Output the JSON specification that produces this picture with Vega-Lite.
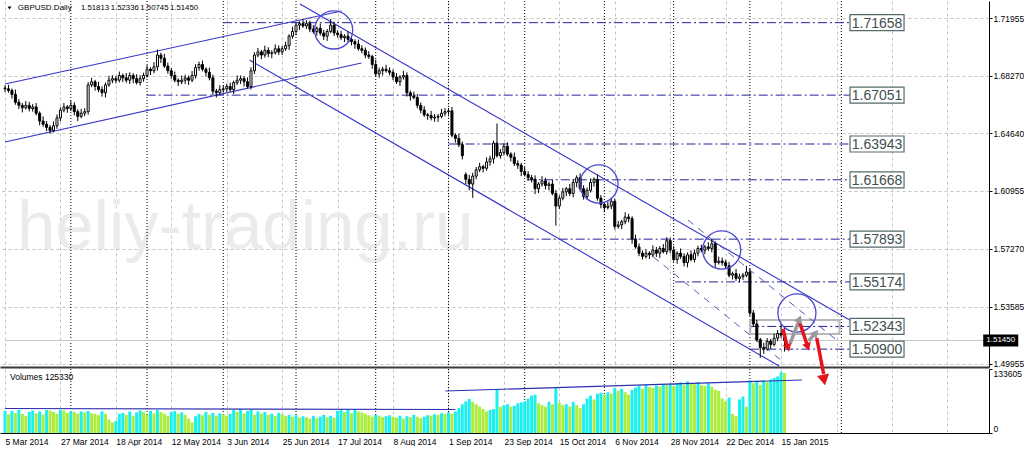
{
"$schema":"https://vega.github.io/schema/vega-lite/v6.json",
"padding":0,
"background":"white",
"spacing":2,
"bounds":"flush",
"config":{"view":{"stroke":null},"font":"Liberation Sans","axis":{"labelFont":"Liberation Sans","labelFontSize":8.5,"labelColor":"#000000","title":null}},
"datasets":{
"one":[{}],
"bars":[
{"k":0,"o":1.6750,"h":1.6768,"l":1.6725,"c":1.6745,"v":46000,"vu":1},
{"k":1,"o":1.6745,"h":1.6770,"l":1.6721,"c":1.6735,"v":39000,"vu":0},
{"k":2,"o":1.6735,"h":1.6747,"l":1.6683,"c":1.6710,"v":46000,"vu":1},
{"k":3,"o":1.6710,"h":1.6740,"l":1.6644,"c":1.6660,"v":42000,"vu":0},
{"k":4,"o":1.6660,"h":1.6680,"l":1.6616,"c":1.6640,"v":48000,"vu":1},
{"k":5,"o":1.6640,"h":1.6655,"l":1.6595,"c":1.6625,"v":40000,"vu":0},
{"k":6,"o":1.6625,"h":1.6668,"l":1.6613,"c":1.6640,"v":36000,"vu":0},
{"k":7,"o":1.6640,"h":1.6662,"l":1.6601,"c":1.6620,"v":44000,"vu":1},
{"k":8,"o":1.6620,"h":1.6648,"l":1.6600,"c":1.6630,"v":47000,"vu":1},
{"k":9,"o":1.6630,"h":1.6655,"l":1.6576,"c":1.6590,"v":41000,"vu":0},
{"k":10,"o":1.6590,"h":1.6602,"l":1.6513,"c":1.6540,"v":45000,"vu":1},
{"k":11,"o":1.6540,"h":1.6570,"l":1.6504,"c":1.6520,"v":38000,"vu":0},
{"k":12,"o":1.6520,"h":1.6540,"l":1.6476,"c":1.6500,"v":48000,"vu":1},
{"k":13,"o":1.6500,"h":1.6515,"l":1.6460,"c":1.6480,"v":47000,"vu":0},
{"k":14,"o":1.6480,"h":1.6538,"l":1.6468,"c":1.6510,"v":44000,"vu":0},
{"k":15,"o":1.6510,"h":1.6582,"l":1.6491,"c":1.6560,"v":40000,"vu":0},
{"k":16,"o":1.6560,"h":1.6628,"l":1.6540,"c":1.6610,"v":48000,"vu":1},
{"k":17,"o":1.6610,"h":1.6655,"l":1.6596,"c":1.6630,"v":47000,"vu":0},
{"k":18,"o":1.6630,"h":1.6642,"l":1.6593,"c":1.6620,"v":42000,"vu":0},
{"k":19,"o":1.6620,"h":1.6670,"l":1.6604,"c":1.6640,"v":45000,"vu":1},
{"k":20,"o":1.6640,"h":1.6660,"l":1.6576,"c":1.6600,"v":44000,"vu":0},
{"k":21,"o":1.6600,"h":1.6615,"l":1.6540,"c":1.6570,"v":40000,"vu":0},
{"k":22,"o":1.6570,"h":1.6618,"l":1.6558,"c":1.6590,"v":45000,"vu":1},
{"k":23,"o":1.6590,"h":1.6622,"l":1.6571,"c":1.6600,"v":43000,"vu":0},
{"k":24,"o":1.6600,"h":1.6788,"l":1.6580,"c":1.6770,"v":46000,"vu":1},
{"k":25,"o":1.6770,"h":1.6815,"l":1.6756,"c":1.6790,"v":41000,"vu":0},
{"k":26,"o":1.6790,"h":1.6802,"l":1.6733,"c":1.6760,"v":40000,"vu":0},
{"k":27,"o":1.6760,"h":1.6790,"l":1.6724,"c":1.6740,"v":37000,"vu":0},
{"k":28,"o":1.6740,"h":1.6760,"l":1.6696,"c":1.6720,"v":45000,"vu":1},
{"k":29,"o":1.6720,"h":1.6785,"l":1.6690,"c":1.6770,"v":40000,"vu":0},
{"k":30,"o":1.6770,"h":1.6828,"l":1.6758,"c":1.6800,"v":28000,"vu":0},
{"k":31,"o":1.6800,"h":1.6832,"l":1.6781,"c":1.6810,"v":22000,"vu":0},
{"k":32,"o":1.6810,"h":1.6828,"l":1.6780,"c":1.6800,"v":25000,"vu":1},
{"k":33,"o":1.6800,"h":1.6855,"l":1.6786,"c":1.6830,"v":40000,"vu":1},
{"k":34,"o":1.6830,"h":1.6842,"l":1.6788,"c":1.6815,"v":42000,"vu":1},
{"k":35,"o":1.6815,"h":1.6845,"l":1.6784,"c":1.6800,"v":38000,"vu":0},
{"k":36,"o":1.6800,"h":1.6850,"l":1.6776,"c":1.6830,"v":45000,"vu":1},
{"k":37,"o":1.6830,"h":1.6845,"l":1.6780,"c":1.6810,"v":36000,"vu":0},
{"k":38,"o":1.6810,"h":1.6838,"l":1.6773,"c":1.6785,"v":43000,"vu":1},
{"k":39,"o":1.6785,"h":1.6832,"l":1.6766,"c":1.6810,"v":47000,"vu":1},
{"k":40,"o":1.6810,"h":1.6848,"l":1.6790,"c":1.6830,"v":44000,"vu":0},
{"k":41,"o":1.6830,"h":1.6895,"l":1.6816,"c":1.6870,"v":38000,"vu":0},
{"k":42,"o":1.6870,"h":1.6882,"l":1.6833,"c":1.6860,"v":46000,"vu":1},
{"k":43,"o":1.6860,"h":1.6915,"l":1.6844,"c":1.6885,"v":41000,"vu":0},
{"k":44,"o":1.6885,"h":1.6995,"l":1.6861,"c":1.6960,"v":48000,"vu":1},
{"k":45,"o":1.6960,"h":1.6975,"l":1.6910,"c":1.6940,"v":44000,"vu":0},
{"k":46,"o":1.6940,"h":1.6968,"l":1.6878,"c":1.6890,"v":40000,"vu":0},
{"k":47,"o":1.6890,"h":1.6912,"l":1.6841,"c":1.6860,"v":36000,"vu":0},
{"k":48,"o":1.6860,"h":1.6878,"l":1.6810,"c":1.6830,"v":44000,"vu":1},
{"k":49,"o":1.6830,"h":1.6855,"l":1.6786,"c":1.6800,"v":46000,"vu":1},
{"k":50,"o":1.6800,"h":1.6812,"l":1.6763,"c":1.6790,"v":40000,"vu":0},
{"k":51,"o":1.6790,"h":1.6830,"l":1.6774,"c":1.6800,"v":43000,"vu":1},
{"k":52,"o":1.6800,"h":1.6835,"l":1.6776,"c":1.6815,"v":38000,"vu":0},
{"k":53,"o":1.6815,"h":1.6830,"l":1.6770,"c":1.6800,"v":30000,"vu":0},
{"k":54,"o":1.6800,"h":1.6858,"l":1.6788,"c":1.6830,"v":22000,"vu":0},
{"k":55,"o":1.6830,"h":1.6902,"l":1.6811,"c":1.6880,"v":35000,"vu":1},
{"k":56,"o":1.6880,"h":1.6918,"l":1.6860,"c":1.6900,"v":40000,"vu":1},
{"k":57,"o":1.6900,"h":1.6925,"l":1.6856,"c":1.6870,"v":37000,"vu":0},
{"k":58,"o":1.6870,"h":1.6882,"l":1.6823,"c":1.6850,"v":44000,"vu":1},
{"k":59,"o":1.6850,"h":1.6880,"l":1.6799,"c":1.6815,"v":38000,"vu":0},
{"k":60,"o":1.6815,"h":1.6835,"l":1.6706,"c":1.6730,"v":42000,"vu":1},
{"k":61,"o":1.6730,"h":1.6745,"l":1.6690,"c":1.6720,"v":36000,"vu":0},
{"k":62,"o":1.6720,"h":1.6768,"l":1.6708,"c":1.6740,"v":41000,"vu":1},
{"k":63,"o":1.6740,"h":1.6767,"l":1.6721,"c":1.6745,"v":39000,"vu":0},
{"k":64,"o":1.6745,"h":1.6778,"l":1.6725,"c":1.6760,"v":36000,"vu":0},
{"k":65,"o":1.6760,"h":1.6785,"l":1.6726,"c":1.6740,"v":40000,"vu":1},
{"k":66,"o":1.6740,"h":1.6797,"l":1.6713,"c":1.6785,"v":48000,"vu":1},
{"k":67,"o":1.6785,"h":1.6830,"l":1.6769,"c":1.6800,"v":44000,"vu":0},
{"k":68,"o":1.6800,"h":1.6830,"l":1.6776,"c":1.6810,"v":50000,"vu":1},
{"k":69,"o":1.6810,"h":1.6825,"l":1.6760,"c":1.6790,"v":41000,"vu":0},
{"k":70,"o":1.6790,"h":1.6818,"l":1.6748,"c":1.6760,"v":46000,"vu":1},
{"k":71,"o":1.6760,"h":1.6882,"l":1.6741,"c":1.6860,"v":49000,"vu":1},
{"k":72,"o":1.6860,"h":1.6978,"l":1.6840,"c":1.6960,"v":38000,"vu":0},
{"k":73,"o":1.6960,"h":1.7005,"l":1.6946,"c":1.6980,"v":45000,"vu":1},
{"k":74,"o":1.6980,"h":1.6992,"l":1.6933,"c":1.6960,"v":40000,"vu":0},
{"k":75,"o":1.6960,"h":1.7020,"l":1.6944,"c":1.6990,"v":44000,"vu":1},
{"k":76,"o":1.6990,"h":1.7010,"l":1.6946,"c":1.6970,"v":38000,"vu":0},
{"k":77,"o":1.6970,"h":1.6990,"l":1.6940,"c":1.6975,"v":40000,"vu":1},
{"k":78,"o":1.6975,"h":1.7028,"l":1.6963,"c":1.7000,"v":36000,"vu":0},
{"k":79,"o":1.7000,"h":1.7022,"l":1.6961,"c":1.6980,"v":42000,"vu":1},
{"k":80,"o":1.6980,"h":1.7018,"l":1.6960,"c":1.7000,"v":39000,"vu":0},
{"k":81,"o":1.7000,"h":1.7045,"l":1.6986,"c":1.7020,"v":35000,"vu":0},
{"k":82,"o":1.7020,"h":1.7092,"l":1.6993,"c":1.7080,"v":38000,"vu":1},
{"k":83,"o":1.7080,"h":1.7140,"l":1.7064,"c":1.7110,"v":34000,"vu":0},
{"k":84,"o":1.7110,"h":1.7170,"l":1.7086,"c":1.7150,"v":37000,"vu":1},
{"k":85,"o":1.7150,"h":1.7175,"l":1.7120,"c":1.7160,"v":32000,"vu":0},
{"k":86,"o":1.7160,"h":1.7188,"l":1.7133,"c":1.7145,"v":35000,"vu":1},
{"k":87,"o":1.7145,"h":1.7182,"l":1.7126,"c":1.7160,"v":33000,"vu":0},
{"k":88,"o":1.7160,"h":1.7178,"l":1.7105,"c":1.7125,"v":30000,"vu":0},
{"k":89,"o":1.7125,"h":1.7150,"l":1.7096,"c":1.7110,"v":36000,"vu":1},
{"k":90,"o":1.7110,"h":1.7142,"l":1.7083,"c":1.7130,"v":31000,"vu":0},
{"k":91,"o":1.7130,"h":1.7160,"l":1.7084,"c":1.7100,"v":34000,"vu":1},
{"k":92,"o":1.7100,"h":1.7120,"l":1.7056,"c":1.7080,"v":38000,"vu":1},
{"k":93,"o":1.7080,"h":1.7125,"l":1.7050,"c":1.7110,"v":33000,"vu":0},
{"k":94,"o":1.7110,"h":1.7190,"l":1.7098,"c":1.7150,"v":36000,"vu":1},
{"k":95,"o":1.7150,"h":1.7172,"l":1.7081,"c":1.7100,"v":32000,"vu":0},
{"k":96,"o":1.7100,"h":1.7118,"l":1.7070,"c":1.7090,"v":46000,"vu":1},
{"k":97,"o":1.7090,"h":1.7115,"l":1.7056,"c":1.7070,"v":48000,"vu":1},
{"k":98,"o":1.7070,"h":1.7092,"l":1.7043,"c":1.7080,"v":44000,"vu":0},
{"k":99,"o":1.7080,"h":1.7110,"l":1.7044,"c":1.7060,"v":49000,"vu":1},
{"k":100,"o":1.7060,"h":1.7080,"l":1.7021,"c":1.7045,"v":41000,"vu":0},
{"k":101,"o":1.7045,"h":1.7060,"l":1.7000,"c":1.7030,"v":50000,"vu":1},
{"k":102,"o":1.7030,"h":1.7058,"l":1.6988,"c":1.7000,"v":45000,"vu":0},
{"k":103,"o":1.7000,"h":1.7022,"l":1.6971,"c":1.6990,"v":43000,"vu":0},
{"k":104,"o":1.6990,"h":1.7008,"l":1.6940,"c":1.6960,"v":40000,"vu":0},
{"k":105,"o":1.6960,"h":1.6985,"l":1.6936,"c":1.6950,"v":37000,"vu":0},
{"k":106,"o":1.6950,"h":1.6962,"l":1.6873,"c":1.6900,"v":34000,"vu":0},
{"k":107,"o":1.6900,"h":1.6930,"l":1.6824,"c":1.6840,"v":38000,"vu":1},
{"k":108,"o":1.6840,"h":1.6880,"l":1.6816,"c":1.6860,"v":36000,"vu":0},
{"k":109,"o":1.6860,"h":1.6885,"l":1.6830,"c":1.6870,"v":33000,"vu":0},
{"k":110,"o":1.6870,"h":1.6898,"l":1.6848,"c":1.6860,"v":35000,"vu":1},
{"k":111,"o":1.6860,"h":1.6882,"l":1.6831,"c":1.6850,"v":37000,"vu":1},
{"k":112,"o":1.6850,"h":1.6868,"l":1.6800,"c":1.6820,"v":34000,"vu":0},
{"k":113,"o":1.6820,"h":1.6845,"l":1.6776,"c":1.6790,"v":32000,"vu":0},
{"k":114,"o":1.6790,"h":1.6832,"l":1.6763,"c":1.6820,"v":36000,"vu":1},
{"k":115,"o":1.6820,"h":1.6860,"l":1.6804,"c":1.6830,"v":30000,"vu":0},
{"k":116,"o":1.6830,"h":1.6850,"l":1.6696,"c":1.6720,"v":35000,"vu":1},
{"k":117,"o":1.6720,"h":1.6735,"l":1.6670,"c":1.6700,"v":33000,"vu":0},
{"k":118,"o":1.6700,"h":1.6728,"l":1.6678,"c":1.6690,"v":38000,"vu":1},
{"k":119,"o":1.6690,"h":1.6712,"l":1.6621,"c":1.6640,"v":34000,"vu":0},
{"k":120,"o":1.6640,"h":1.6658,"l":1.6590,"c":1.6610,"v":31000,"vu":0},
{"k":121,"o":1.6610,"h":1.6635,"l":1.6566,"c":1.6580,"v":34000,"vu":1},
{"k":122,"o":1.6580,"h":1.6592,"l":1.6548,"c":1.6575,"v":37000,"vu":1},
{"k":123,"o":1.6575,"h":1.6605,"l":1.6544,"c":1.6560,"v":36000,"vu":0},
{"k":124,"o":1.6560,"h":1.6585,"l":1.6536,"c":1.6565,"v":39000,"vu":1},
{"k":125,"o":1.6565,"h":1.6585,"l":1.6535,"c":1.6570,"v":38000,"vu":0},
{"k":126,"o":1.6570,"h":1.6618,"l":1.6558,"c":1.6590,"v":41000,"vu":1},
{"k":127,"o":1.6590,"h":1.6622,"l":1.6571,"c":1.6600,"v":40000,"vu":0},
{"k":128,"o":1.6600,"h":1.6623,"l":1.6580,"c":1.6605,"v":43000,"vu":1},
{"k":129,"o":1.6605,"h":1.6630,"l":1.6436,"c":1.6450,"v":40000,"vu":0},
{"k":130,"o":1.6450,"h":1.6462,"l":1.6403,"c":1.6430,"v":45000,"vu":1},
{"k":131,"o":1.6430,"h":1.6460,"l":1.6374,"c":1.6390,"v":52000,"vu":1},
{"k":132,"o":1.6390,"h":1.6410,"l":1.6296,"c":1.6320,"v":60000,"vu":1},
{"k":133,"o":1.6200,"h":1.6215,"l":1.6140,"c":1.6170,"v":66000,"vu":1},
{"k":134,"o":1.6170,"h":1.6198,"l":1.6100,"c":1.6140,"v":71000,"vu":1},
{"k":135,"o":1.6140,"h":1.6212,"l":1.6052,"c":1.6190,"v":65000,"vu":0},
{"k":136,"o":1.6190,"h":1.6248,"l":1.6170,"c":1.6230,"v":60000,"vu":0},
{"k":137,"o":1.6230,"h":1.6275,"l":1.6216,"c":1.6250,"v":55000,"vu":0},
{"k":138,"o":1.6250,"h":1.6262,"l":1.6213,"c":1.6240,"v":50000,"vu":0},
{"k":139,"o":1.6240,"h":1.6310,"l":1.6224,"c":1.6280,"v":45000,"vu":0},
{"k":140,"o":1.6280,"h":1.6320,"l":1.6256,"c":1.6300,"v":48000,"vu":1},
{"k":141,"o":1.6300,"h":1.6415,"l":1.6270,"c":1.6400,"v":50000,"vu":1},
{"k":142,"o":1.6400,"h":1.6525,"l":1.6308,"c":1.6320,"v":92000,"vu":1},
{"k":143,"o":1.6320,"h":1.6362,"l":1.6301,"c":1.6340,"v":55000,"vu":0},
{"k":144,"o":1.6340,"h":1.6398,"l":1.6320,"c":1.6380,"v":58000,"vu":1},
{"k":145,"o":1.6380,"h":1.6405,"l":1.6316,"c":1.6330,"v":60000,"vu":1},
{"k":146,"o":1.6330,"h":1.6342,"l":1.6283,"c":1.6310,"v":55000,"vu":0},
{"k":147,"o":1.6310,"h":1.6340,"l":1.6254,"c":1.6270,"v":57000,"vu":1},
{"k":148,"o":1.6270,"h":1.6290,"l":1.6236,"c":1.6260,"v":62000,"vu":1},
{"k":149,"o":1.6260,"h":1.6275,"l":1.6190,"c":1.6220,"v":64000,"vu":1},
{"k":150,"o":1.6220,"h":1.6248,"l":1.6188,"c":1.6200,"v":66000,"vu":1},
{"k":151,"o":1.6200,"h":1.6222,"l":1.6161,"c":1.6180,"v":72000,"vu":1},
{"k":152,"o":1.6180,"h":1.6198,"l":1.6150,"c":1.6170,"v":78000,"vu":1},
{"k":153,"o":1.6170,"h":1.6195,"l":1.6076,"c":1.6110,"v":80000,"vu":1},
{"k":154,"o":1.6110,"h":1.6152,"l":1.6083,"c":1.6140,"v":62000,"vu":0},
{"k":155,"o":1.6140,"h":1.6190,"l":1.6124,"c":1.6160,"v":58000,"vu":0},
{"k":156,"o":1.6160,"h":1.6180,"l":1.6106,"c":1.6130,"v":55000,"vu":0},
{"k":157,"o":1.6130,"h":1.6155,"l":1.6100,"c":1.6140,"v":65000,"vu":1},
{"k":158,"o":1.6140,"h":1.6168,"l":1.6068,"c":1.6080,"v":60000,"vu":0},
{"k":159,"o":1.6080,"h":1.6102,"l":1.5875,"c":1.6000,"v":94000,"vu":1},
{"k":160,"o":1.6000,"h":1.6068,"l":1.5980,"c":1.6050,"v":63000,"vu":0},
{"k":161,"o":1.6050,"h":1.6115,"l":1.6036,"c":1.6090,"v":58000,"vu":0},
{"k":162,"o":1.6090,"h":1.6122,"l":1.6063,"c":1.6110,"v":60000,"vu":1},
{"k":163,"o":1.6110,"h":1.6140,"l":1.6064,"c":1.6080,"v":55000,"vu":0},
{"k":164,"o":1.6080,"h":1.6170,"l":1.6056,"c":1.6150,"v":65000,"vu":1},
{"k":165,"o":1.6150,"h":1.6195,"l":1.6120,"c":1.6180,"v":58000,"vu":0},
{"k":166,"o":1.6180,"h":1.6208,"l":1.6098,"c":1.6110,"v":52000,"vu":0},
{"k":167,"o":1.6110,"h":1.6132,"l":1.6041,"c":1.6060,"v":60000,"vu":1},
{"k":168,"o":1.6060,"h":1.6118,"l":1.6040,"c":1.6100,"v":72000,"vu":1},
{"k":169,"o":1.6100,"h":1.6175,"l":1.6086,"c":1.6150,"v":78000,"vu":1},
{"k":170,"o":1.6150,"h":1.6182,"l":1.6123,"c":1.6170,"v":70000,"vu":0},
{"k":171,"o":1.6170,"h":1.6200,"l":1.6034,"c":1.6050,"v":82000,"vu":1},
{"k":172,"o":1.6050,"h":1.6070,"l":1.5986,"c":1.6010,"v":84000,"vu":1},
{"k":173,"o":1.6010,"h":1.6025,"l":1.5960,"c":1.5990,"v":80000,"vu":0},
{"k":174,"o":1.5990,"h":1.6028,"l":1.5978,"c":1.6000,"v":85000,"vu":1},
{"k":175,"o":1.6000,"h":1.6052,"l":1.5981,"c":1.6030,"v":82000,"vu":0},
{"k":176,"o":1.6030,"h":1.6048,"l":1.5850,"c":1.5870,"v":94000,"vu":1},
{"k":177,"o":1.5870,"h":1.5905,"l":1.5856,"c":1.5880,"v":88000,"vu":0},
{"k":178,"o":1.5880,"h":1.5912,"l":1.5853,"c":1.5900,"v":92000,"vu":1},
{"k":179,"o":1.5900,"h":1.5960,"l":1.5884,"c":1.5930,"v":85000,"vu":0},
{"k":180,"o":1.5930,"h":1.5950,"l":1.5896,"c":1.5920,"v":80000,"vu":0},
{"k":181,"o":1.5920,"h":1.5935,"l":1.5760,"c":1.5790,"v":90000,"vu":1},
{"k":182,"o":1.5790,"h":1.5818,"l":1.5728,"c":1.5740,"v":95000,"vu":1},
{"k":183,"o":1.5740,"h":1.5762,"l":1.5681,"c":1.5700,"v":98000,"vu":1},
{"k":184,"o":1.5700,"h":1.5718,"l":1.5660,"c":1.5680,"v":92000,"vu":0},
{"k":185,"o":1.5680,"h":1.5725,"l":1.5666,"c":1.5700,"v":100000,"vu":1},
{"k":186,"o":1.5700,"h":1.5712,"l":1.5663,"c":1.5690,"v":96000,"vu":0},
{"k":187,"o":1.5690,"h":1.5750,"l":1.5674,"c":1.5720,"v":94000,"vu":0},
{"k":188,"o":1.5720,"h":1.5740,"l":1.5676,"c":1.5700,"v":99000,"vu":1},
{"k":189,"o":1.5700,"h":1.5745,"l":1.5670,"c":1.5730,"v":97000,"vu":0},
{"k":190,"o":1.5730,"h":1.5758,"l":1.5698,"c":1.5710,"v":102000,"vu":1},
{"k":191,"o":1.5710,"h":1.5802,"l":1.5691,"c":1.5780,"v":100000,"vu":0},
{"k":192,"o":1.5780,"h":1.5798,"l":1.5700,"c":1.5720,"v":103000,"vu":1},
{"k":193,"o":1.5720,"h":1.5745,"l":1.5646,"c":1.5660,"v":98000,"vu":0},
{"k":194,"o":1.5660,"h":1.5712,"l":1.5633,"c":1.5700,"v":104000,"vu":1},
{"k":195,"o":1.5700,"h":1.5730,"l":1.5664,"c":1.5680,"v":106000,"vu":1},
{"k":196,"o":1.5680,"h":1.5700,"l":1.5616,"c":1.5640,"v":100000,"vu":0},
{"k":197,"o":1.5640,"h":1.5705,"l":1.5610,"c":1.5690,"v":108000,"vu":1},
{"k":198,"o":1.5690,"h":1.5718,"l":1.5648,"c":1.5660,"v":104000,"vu":0},
{"k":199,"o":1.5660,"h":1.5722,"l":1.5641,"c":1.5700,"v":102000,"vu":0},
{"k":200,"o":1.5700,"h":1.5748,"l":1.5680,"c":1.5730,"v":106000,"vu":1},
{"k":201,"o":1.5730,"h":1.5755,"l":1.5706,"c":1.5720,"v":100000,"vu":0},
{"k":202,"o":1.5720,"h":1.5752,"l":1.5693,"c":1.5740,"v":98000,"vu":0},
{"k":203,"o":1.5740,"h":1.5770,"l":1.5714,"c":1.5730,"v":104000,"vu":1},
{"k":204,"o":1.5730,"h":1.5790,"l":1.5706,"c":1.5760,"v":96000,"vu":0},
{"k":205,"o":1.5760,"h":1.5775,"l":1.5610,"c":1.5640,"v":90000,"vu":0},
{"k":206,"o":1.5640,"h":1.5678,"l":1.5628,"c":1.5650,"v":88000,"vu":0},
{"k":207,"o":1.5650,"h":1.5672,"l":1.5621,"c":1.5640,"v":72000,"vu":0},
{"k":208,"o":1.5640,"h":1.5658,"l":1.5600,"c":1.5620,"v":66000,"vu":0},
{"k":209,"o":1.5620,"h":1.5645,"l":1.5546,"c":1.5560,"v":74000,"vu":1},
{"k":210,"o":1.5560,"h":1.5582,"l":1.5533,"c":1.5570,"v":40000,"vu":0},
{"k":211,"o":1.5570,"h":1.5600,"l":1.5524,"c":1.5540,"v":35000,"vu":0},
{"k":212,"o":1.5540,"h":1.5570,"l":1.5516,"c":1.5550,"v":70000,"vu":1},
{"k":213,"o":1.5550,"h":1.5575,"l":1.5530,"c":1.5560,"v":76000,"vu":1},
{"k":214,"o":1.5560,"h":1.5620,"l":1.5548,"c":1.5580,"v":55000,"vu":0},
{"k":215,"o":1.5580,"h":1.5602,"l":1.5301,"c":1.5320,"v":110000,"vu":1},
{"k":216,"o":1.5320,"h":1.5338,"l":1.5230,"c":1.5250,"v":104000,"vu":0},
{"k":217,"o":1.5250,"h":1.5275,"l":1.5136,"c":1.5150,"v":108000,"vu":1},
{"k":218,"o":1.5150,"h":1.5162,"l":1.5035,"c":1.5100,"v":100000,"vu":0},
{"k":219,"o":1.5100,"h":1.5130,"l":1.5060,"c":1.5090,"v":110000,"vu":1},
{"k":220,"o":1.5090,"h":1.5160,"l":1.5080,"c":1.5140,"v":106000,"vu":0},
{"k":221,"o":1.5140,"h":1.5155,"l":1.5090,"c":1.5120,"v":112000,"vu":1},
{"k":222,"o":1.5120,"h":1.5188,"l":1.5108,"c":1.5160,"v":115000,"vu":1},
{"k":223,"o":1.5160,"h":1.5212,"l":1.5141,"c":1.5190,"v":118000,"vu":1},
{"k":224,"o":1.5190,"h":1.5250,"l":1.5160,"c":1.5180,"v":127000,"vu":1},
{"k":225,"o":1.51813,"h":1.52336,"l":1.50745,"c":1.5145,"v":125330,"vu":0}
],
"seps":[{"k":19},{"k":41},{"k":63},{"k":84},{"k":107},{"k":128},{"k":150},{"k":173},{"k":193},{"k":215},{"k":241.4}],
"levels":[
{"p":1.71658,"k":62.9},{"p":1.67051,"k":40.9},{"p":1.63943,"k":128},{"p":1.61668,"k":150.6},
{"p":1.57893,"k":150},{"p":1.55174,"k":193.4},{"p":1.52343,"k":215.1},{"p":1.509,"k":215.1}],
"tl":[
{"k1":0,"p1":1.67759,"k2":97.14,"p2":1.72401},
{"k1":0,"p1":1.64071,"k2":102.86,"p2":1.69094},
{"k1":85.14,"p1":1.72846,"k2":244.29,"p2":1.52689},
{"k1":70.57,"p1":1.69285,"k2":223.43,"p2":1.49828}],
"tld":[
{"k1":197.14,"p1":1.59111,"k2":240,"p2":1.51481},
{"k1":187.14,"p1":1.56759,"k2":224.29,"p2":1.50146}],
"circles":[{"k":94.86,"p":1.71193},{"k":171.43,"p":1.614},{"k":206.86,"p":1.57204},{"k":228.57,"p":1.53197}],
"arrows":[
{"k1":224.57,"p1":1.52181,"k2":225.71,"p2":1.511,"t":"s"},
{"k1":226.57,"p1":1.51227,"k2":229.14,"p2":1.52689,"t":"b"},
{"k1":229.43,"p1":1.52562,"k2":231.43,"p2":1.51227,"t":"s"},
{"k1":232.0,"p1":1.51418,"k2":233.71,"p2":1.51863,"t":"b"},
{"k1":234.29,"p1":1.51608,"k2":236.29,"p2":1.49319,"t":"s"}],
"vtl":[
{"k1":0,"v1":51150,"k2":130,"v2":49060},
{"k1":127.14,"v1":87680,"k2":230,"v2":110640}]
},
"vconcat":[
{
"width":989,"height":366,
"layer":[
{"data":{"name":"one"},"mark":{"type":"text","align":"left","baseline":"alphabetic","fontSize":69,"font":"Liberation Sans","color":"#EBEBEB"},
 "encoding":{"x":{"datum":3.43,"type":"quantitative","scale":{"domain":[0,282.571],"nice":false,"zero":false},
   "axis":{"orient":"bottom","values":[0,8,16,24,32,40,48,56,64,72,80,88,96,104,112,120,128,136,144,152,160,168,176,184,192,200,208,216,224,232,240,248,256,264,272,280],"labels":false,"ticks":false,"domain":true,"domainColor":"#3A3A3A","domainWidth":2,"grid":true,"gridColor":"#C4C4C4","gridDash":[3,3],"title":null}},
  "y":{"datum":1.57267,"type":"quantitative","scale":{"domain":[1.49764,1.73036],"nice":false,"zero":false},
   "axis":{"orient":"right","values":[1.49955,1.5177,1.53585,1.55455,1.5727,1.59085,1.60955,1.6277,1.6464,1.66455,1.6827,1.7014,1.71955],"format":".5f","grid":true,"gridColor":"#C4C4C4","gridDash":[3,3],"domain":true,"domainColor":"#000000","ticks":true,"tickSize":3,"tickColor":"#000000","labelPadding":1,"title":null}},
  "text":{"value":"heliy-trading.ru"}}},
{"data":{"name":"seps"},"mark":{"type":"rule","color":"#000000","strokeDash":[1,2],"strokeWidth":1},
 "encoding":{"x":{"field":"k","type":"quantitative"}}},
{"data":{"name":"one"},"mark":{"type":"rule","color":"#C8C8C8","strokeWidth":1},
 "encoding":{"x":{"datum":0},"x2":{"datum":282.571},"y":{"datum":1.5145}}},
{"data":{"name":"levels"},"mark":{"type":"rule","color":"#23239A","strokeWidth":1,"strokeDash":[9,3,2,3]},
 "encoding":{"x":{"field":"k","type":"quantitative"},"x2":{"datum":244.3},"y":{"field":"p","type":"quantitative"}}},
{"data":{"name":"one"},"mark":{"type":"rect","fillOpacity":0,"stroke":"#B8B8B8","strokeWidth":2},
 "encoding":{"x":{"datum":215.1},"x2":{"datum":240.9},"y":{"datum":1.52753},"y2":{"datum":1.51863}}},
{"data":{"name":"tl"},"mark":{"type":"rule","color":"#3434C8","strokeWidth":1.1},
 "encoding":{"x":{"field":"k1","type":"quantitative"},"x2":{"field":"k2"},"y":{"field":"p1","type":"quantitative"},"y2":{"field":"p2"}}},
{"data":{"name":"tld"},"mark":{"type":"rule","color":"#5A5AB4","strokeWidth":1,"strokeDash":[7,6]},
 "encoding":{"x":{"field":"k1","type":"quantitative"},"x2":{"field":"k2"},"y":{"field":"p1","type":"quantitative"},"y2":{"field":"p2"}}},
{"data":{"name":"bars"},"mark":{"type":"rule","color":"#000000","strokeWidth":1,"clip":true},
 "encoding":{"x":{"field":"k","type":"quantitative"},"y":{"field":"l","type":"quantitative"},"y2":{"field":"h"}}},
{"data":{"name":"bars"},"mark":{"type":"bar","size":2,"stroke":"#000000","strokeWidth":1,"clip":true},
 "encoding":{"x":{"field":"k","type":"quantitative"},"y":{"field":"o","type":"quantitative"},"y2":{"field":"c"},
  "fill":{"condition":{"test":"datum.c < datum.o","value":"#000000"},"value":"#FFFFFF"}}},
{"data":{"name":"circles"},"mark":{"type":"point","shape":"circle","filled":false,"size":1450,"stroke":"#4848D0","strokeWidth":1.3,"opacity":1},
 "encoding":{"x":{"field":"k","type":"quantitative"},"y":{"field":"p","type":"quantitative"}}},
{"data":{"name":"arrows"},"mark":{"type":"rule","strokeWidth":3.5},
 "encoding":{"x":{"field":"k1","type":"quantitative"},"x2":{"field":"k2"},"y":{"field":"p1","type":"quantitative"},"y2":{"field":"p2"},
  "color":{"condition":{"test":"datum.t == 's'","value":"#E5141B"},"value":"#9A9A9A"}}},
{"data":{"name":"one"},"mark":{"type":"point","shape":"triangle-up","filled":true,"color":"#E5141B","opacity":1,"size":80,"angle":164},
 "encoding":{"x":{"datum":226.0},"y":{"datum":1.5098}}},
{"data":{"name":"one"},"mark":{"type":"point","shape":"triangle-up","filled":true,"color":"#9A9A9A","opacity":1,"size":80,"angle":21},
 "encoding":{"x":{"datum":229.3},"y":{"datum":1.5282}}},
{"data":{"name":"one"},"mark":{"type":"point","shape":"triangle-up","filled":true,"color":"#E5141B","opacity":1,"size":80,"angle":162},
 "encoding":{"x":{"datum":231.7},"y":{"datum":1.5104}}},
{"data":{"name":"one"},"mark":{"type":"point","shape":"triangle-up","filled":true,"color":"#9A9A9A","opacity":1,"size":80,"angle":40},
 "encoding":{"x":{"datum":234.0},"y":{"datum":1.5193}}},
{"data":{"name":"one"},"mark":{"type":"point","shape":"triangle-up","filled":true,"color":"#E5141B","opacity":1,"size":150,"angle":169,"clip":false},
 "encoding":{"x":{"datum":236.4},"y":{"datum":1.4894}}},
{"data":{"name":"levels"},"mark":{"type":"point","shape":"M-1,-0.296H1V0.296H-1Z","size":2916,"filled":true,"fill":"#FFFFFF","stroke":"#566A6A","strokeWidth":1.2,"opacity":1},
 "encoding":{"x":{"datum":251.7},"y":{"field":"p","type":"quantitative"}}},
{"data":{"name":"levels"},"mark":{"type":"text","fontSize":14,"font":"Liberation Sans","color":"#3E5050","align":"center","baseline":"middle","dy":1},
 "encoding":{"x":{"datum":251.7},"y":{"field":"p","type":"quantitative"},"text":{"field":"p","format":".5f"}}},
{"data":{"name":"one"},"mark":{"type":"point","shape":"triangle-down","filled":true,"color":"#000000","opacity":1,"size":14},
 "encoding":{"x":{"datum":1.3},"y":{"datum":1.72591}}},
{"data":{"name":"one"},"mark":{"type":"text","align":"left","baseline":"middle","fontSize":8,"font":"Liberation Sans","color":"#000000"},
 "encoding":{"x":{"datum":3.71},"y":{"datum":1.72591},"text":{"value":"GBPUSD.Daily"}}},
{"data":{"name":"one"},"mark":{"type":"text","align":"left","baseline":"middle","fontSize":7.8,"font":"Liberation Sans","color":"#000000"},
 "encoding":{"x":{"datum":21.9},"y":{"datum":1.72591},"text":{"value":"1.51813"}}},
{"data":{"name":"one"},"mark":{"type":"text","align":"left","baseline":"middle","fontSize":7.8,"font":"Liberation Sans","color":"#000000"},
 "encoding":{"x":{"datum":30.5},"y":{"datum":1.72591},"text":{"value":"1.52336"}}},
{"data":{"name":"one"},"mark":{"type":"text","align":"left","baseline":"middle","fontSize":7.8,"font":"Liberation Sans","color":"#000000"},
 "encoding":{"x":{"datum":39.06},"y":{"datum":1.72591},"text":{"value":"1.50745"}}},
{"data":{"name":"one"},"mark":{"type":"text","align":"left","baseline":"middle","fontSize":7.8,"font":"Liberation Sans","color":"#000000"},
 "encoding":{"x":{"datum":47.6},"y":{"datum":1.72591},"text":{"value":"1.51450"}}},
{"data":{"name":"one"},"mark":{"type":"point","shape":"M-1,-0.343H1V0.343H-1Z","size":1225,"filled":true,"fill":"#000000","opacity":1,"clip":false},
 "encoding":{"x":{"datum":287.4},"y":{"datum":1.5145}}},
{"data":{"name":"one"},"mark":{"type":"text","align":"center","baseline":"middle","fontSize":8,"font":"Liberation Sans","color":"#FFFFFF","clip":false},
 "encoding":{"x":{"datum":287.4},"y":{"datum":1.5145},"text":{"value":"1.51450"}}}
]
},
{
"width":989,"height":64,
"layer":[
{"data":{"name":"seps"},"mark":{"type":"rule","color":"#000000","strokeDash":[1,2],"strokeWidth":1},
 "encoding":{"x":{"field":"k","type":"quantitative","scale":{"domain":[0,282.571],"nice":false,"zero":false},
   "axis":{"orient":"bottom","values":[0,8,16,24,32,40,48,56,64,72,80,88,96,104,112,120,128,136,144,152,160,168,176,184,192,200,208,216,224,232,240,248,256,264,272,280],
   "labelExpr":"(datum.value % 16 == 0 && datum.value <= 224) ? ['5 Mar 2014','27 Mar 2014','18 Apr 2014','12 May 2014','3 Jun 2014','25 Jun 2014','17 Jul 2014','8 Aug 2014','1 Sep 2014','23 Sep 2014','15 Oct 2014','6 Nov 2014','28 Nov 2014','22 Dec 2014','15 Jan 2015'][datum.value / 16] : ''",
   "labelAlign":"left","labelFlush":false,"labelOverlap":false,"labelPadding":4,"ticks":false,"domain":true,"domainColor":"#000000","grid":true,"gridColor":"#C4C4C4","gridDash":[3,3],"title":null}}}},
{"data":{"name":"bars"},"mark":{"type":"bar","size":3,"clip":true},
 "encoding":{"x":{"field":"k","type":"quantitative"},
  "y":{"field":"v","type":"quantitative","scale":{"domain":[0,133605],"nice":false,"zero":true},
   "axis":{"orient":"right","values":[0,133605],"format":"d","labelFlush":true,"grid":false,"domain":true,"domainColor":"#000000","ticks":true,"tickSize":3,"tickColor":"#000000","labelPadding":1,"title":null}},
  "color":{"condition":{"test":"datum.vu == 1","value":"#1DEEEE"},"value":"#ACEC3C"}}},
{"data":{"name":"vtl"},"mark":{"type":"rule","color":"#2E2EAE","strokeWidth":1.2},
 "encoding":{"x":{"field":"k1","type":"quantitative"},"x2":{"field":"k2"},"y":{"field":"v1","type":"quantitative"},"y2":{"field":"v2"}}},
{"data":{"name":"one"},"mark":{"type":"text","align":"left","baseline":"middle","fontSize":8.5,"font":"Liberation Sans","color":"#000000"},
 "encoding":{"x":{"datum":1.43},"y":{"datum":116900},"text":{"value":"Volumes 125330"}}}
]
}
]
}
